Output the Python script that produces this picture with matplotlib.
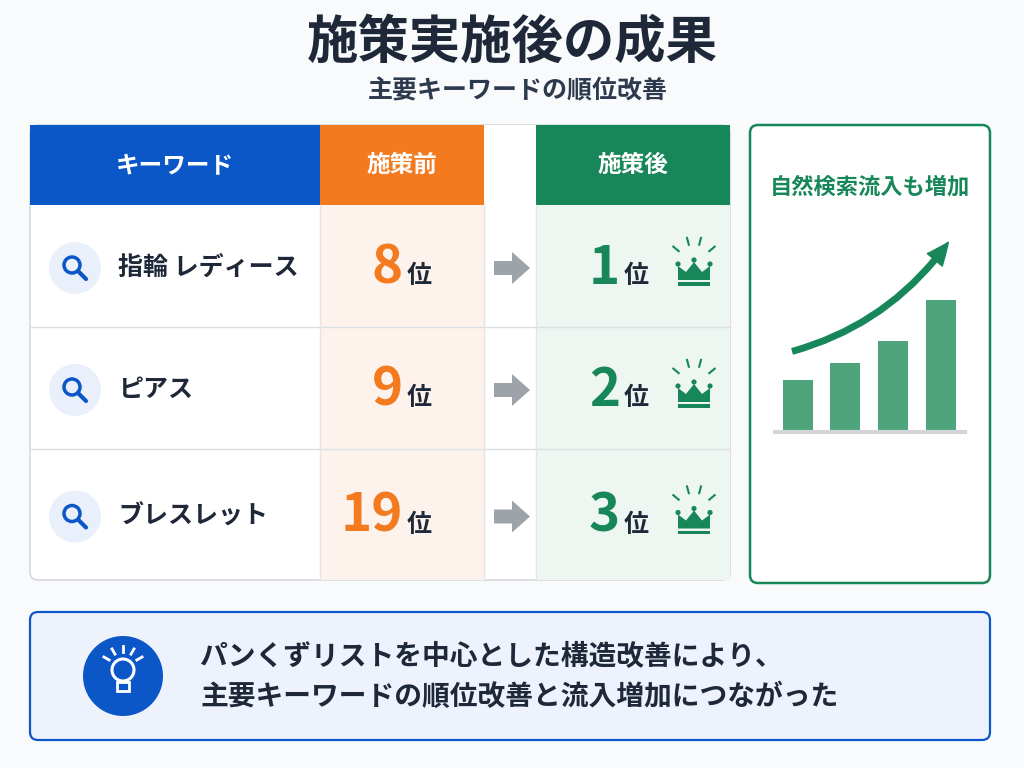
import matplotlib
matplotlib.use("Agg")
import matplotlib.pyplot as plt
from matplotlib.patches import FancyBboxPatch, Rectangle, Circle, Polygon, FancyArrowPatch
import math

plt.rcParams['font.family'] = ['Noto Sans CJK JP', 'DejaVu Sans']

title = "施策実施後の成果"
subtitle = "主要キーワードの順位改善"
headers = ["キーワード", "施策前", "施策後"]
keywords = ["指輪 レディース", "ピアス", "ブレスレット"]
rank_before = [8, 9, 19]
rank_after = [1, 2, 3]
panel_title = "自然検索流入も増加"
traffic = [50, 67, 89, 130]
message = ["パンくずリストを中心とした構造改善により、", "主要キーワードの順位改善と流入増加につながった"]

BLUE = "#0b57c8"; ORANGE = "#f47a1f"; GREEN = "#17875a"; DARK = "#1e2838"
fig = plt.figure(figsize=(10.24, 7.68), dpi=100)
fig.patch.set_facecolor("#f9fafc")
ax = fig.add_axes([0, 0, 1, 1]); ax.set_xlim(0, 1024); ax.set_ylim(768, 0); ax.axis("off")

ax.text(512, 42, title, ha="center", va="center", fontsize=37, fontweight="bold", color=DARK)
ax.text(518, 91, subtitle, ha="center", va="center", fontsize=18, fontweight="bold", color="#2d3a4e")

T, H, B = 125, 205, 580
ax.add_patch(FancyBboxPatch((30, T), 700, B - T, boxstyle="round,pad=0,rounding_size=8",
                            fc="white", ec="#d5d9de", lw=1.2))
ax.add_patch(Rectangle((320, H), 164, B - H, fc="#fdf3ec", ec="none"))
ax.add_patch(Rectangle((536, H), 194, B - H, fc="#edf6f1", ec="none"))
for (x0, w, c, t) in [(30, 290, BLUE, headers[0]), (320, 164, ORANGE, headers[1]), (536, 194, GREEN, headers[2])]:
    ax.add_patch(Rectangle((x0, T), w, H - T, fc=c, ec="none"))
    ax.text(x0 + w / 2, 165, t, ha="center", va="center", fontsize=17, fontweight="bold", color="white")
ax.add_patch(Rectangle((484, T), 52, H - T, fc="white", ec="none"))
rows = [205, 327, 449, 580]
for y in rows[1:3]:
    ax.plot([30, 730], [y, y], color="#dcdfe3", lw=1)
for x in [320, 484, 536]:
    ax.plot([x, x], [H, B], color="#e3e5e8", lw=1)

def crown(cx, cy, s=1.0):
    pts = [(-16, 8), (-16, -6), (-8, 0), (0, -10), (8, 0), (16, -6), (16, 8)]
    ax.add_patch(Polygon([(cx + px * s, cy + py * s) for px, py in pts], fc=GREEN, ec="none"))
    for px, py in [(-16, -6), (0, -10), (16, -6)]:
        ax.add_patch(Circle((cx + px * s, cy + py * s - 2), 2.6, fc=GREEN, ec="none"))
    ax.add_patch(Rectangle((cx - 16 * s, cy + 10 * s), 32 * s, 3.5 * s, fc=GREEN, ec="none"))
    for ang in [-50, -15, 15, 50]:
        a = math.radians(ang - 90)
        r1, r2 = 20, 27
        ax.plot([cx + r1 * math.cos(a), cx + r2 * math.cos(a)],
                [cy - 8 + r1 * math.sin(a), cy - 8 + r2 * math.sin(a)], color=GREEN, lw=1.5)

for i, kw in enumerate(keywords):
    yc = (rows[i] + rows[i + 1]) / 2 + 2
    ax.add_patch(Circle((75, yc), 26, fc="#e9f0fb", ec="none"))
    ax.add_patch(Circle((72, yc - 3), 8, fc="none", ec=BLUE, lw=2.5))
    ax.plot([78, 86], [yc + 3, yc + 11], color=BLUE, lw=3, solid_capstyle="round")
    ax.text(118, yc, kw, ha="left", va="center", fontsize=18, fontweight="bold", color=DARK)
    ax.text(403, yc, f"{rank_before[i]}", ha="right", va="center", fontsize=38, fontweight="bold", color=ORANGE)
    ax.text(407, yc + 8, "位", ha="left", va="center", fontsize=18, fontweight="bold", color=DARK)
    ax.text(620, yc, f"{rank_after[i]}", ha="right", va="center", fontsize=38, fontweight="bold", color=GREEN)
    ax.text(624, yc + 8, "位", ha="left", va="center", fontsize=18, fontweight="bold", color=DARK)
    crown(694, yc + 4, 1.0)
    ax.add_patch(Polygon([(494, yc - 7), (512, yc - 7), (512, yc - 16), (530, yc), (512, yc + 16),
                          (512, yc + 7), (494, yc + 7)], fc="#9ea3a9", ec="none"))

ax.add_patch(FancyBboxPatch((750, 125), 240, 458, boxstyle="round,pad=0,rounding_size=8",
                            fc="white", ec=GREEN, lw=1.8))
ax.text(870, 187, panel_title, ha="center", va="center", fontsize=16, fontweight="bold", color=GREEN)
bx = [798, 845, 893, 941]
bars = ax.bar(bx, traffic, width=30, bottom=430, color="#4ea57c")
for p, v in zip(bars, traffic):
    p.set_y(430 - v); p.set_height(v)
ax.plot([775, 965], [432, 432], color="#d3d6d9", lw=3)
arr = FancyArrowPatch((790, 352), (950, 240), connectionstyle="arc3,rad=0.18",
                      arrowstyle="simple,head_width=14,head_length=16,tail_width=4", fc=GREEN, ec=GREEN)
ax.add_patch(arr)

ax.add_patch(FancyBboxPatch((30, 612), 960, 128, boxstyle="round,pad=0,rounding_size=8",
                            fc="#edf2fc", ec=BLUE, lw=1.6))
ax.add_patch(Circle((123, 676), 40, fc=BLUE, ec="none"))
ax.add_patch(Circle((123, 670), 11, fc="none", ec="white", lw=2.2))
ax.add_patch(Rectangle((117, 682), 12, 9, fc="none", ec="white", lw=2))
for ang in [-60, -30, 0, 30, 60]:
    a = math.radians(ang - 90)
    ax.plot([123 + 16 * math.cos(a), 123 + 22 * math.cos(a)],
            [668 + 16 * math.sin(a), 668 + 22 * math.sin(a)], color="white", lw=2)
ax.text(200, 657, message[0], ha="left", va="center", fontsize=20, fontweight="bold", color=DARK)
ax.text(200, 697, message[1], ha="left", va="center", fontsize=20, fontweight="bold", color=DARK)

fig.savefig("out.png", dpi=100, facecolor=fig.get_facecolor())
